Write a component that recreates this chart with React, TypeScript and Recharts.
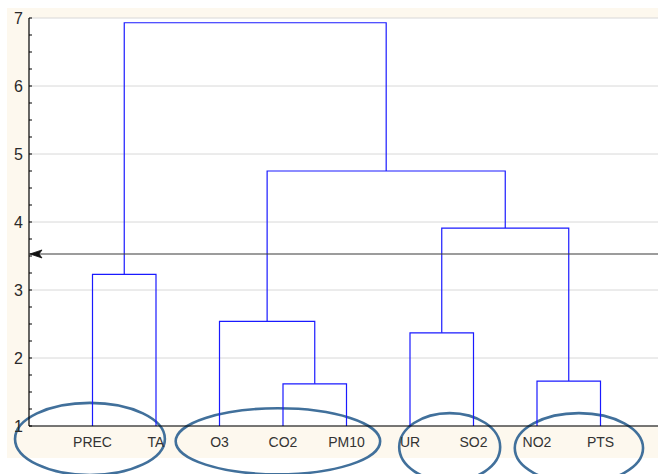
import React from "react";
import {
  ComposedChart,
  Line,
  XAxis,
  YAxis,
  CartesianGrid,
  ReferenceArea,
} from "recharts";

// Leaves of the dendrogram, left to right
const leaves = ["PREC", "TA", "O3", "CO2", "PM10", "UR", "SO2", "NO2", "PTS"];
// Merges: node ids 0..8 are leaves, merge k creates node 9+k
const mergeLeft = [3, 7, 5, 2, 0, 11, 12, 13];
const mergeRight = [4, 8, 6, 9, 1, 10, 14, 15];
const mergeHeight = [1.62, 1.66, 2.37, 2.54, 3.23, 3.91, 4.75, 6.93];
// Cut line
const cutHeight = 3.53;
// Y axis ticks (labels only on whole numbers)
const yMinorTicks = [
  1, 1.25, 1.5, 1.75, 2, 2.25, 2.5, 2.75, 3, 3.25, 3.5, 3.75, 4, 4.25, 4.5,
  4.75, 5, 5.25, 5.5, 5.75, 6, 6.25, 6.5, 6.75, 7,
];
const gridTicks = [1, 2, 3, 4, 5, 6, 7];
const leafTicks = [1, 2, 3, 4, 5, 6, 7, 8, 9];
// Annotation ellipses (bounds in data units)
const ellX1 = [-0.22, 2.31, 5.83, 7.65];
const ellX2 = [2.14, 5.53, 7.42, 9.67];
const ellY1 = [1.34, 1.26, 1.19, 1.19];
const ellY2 = [0.28, 0.29, 0.19, 0.16];

const BLUE = "#1a1aff";
const FONT = "Liberation Sans, Arial, sans-serif";

function buildSegments() {
  const xs: number[] = leaves.map((_, i) => i + 1);
  const hs: number[] = leaves.map(() => 1);
  const segs: { x: number; y: number }[][] = [];
  mergeLeft.forEach((a, k) => {
    const b = mergeRight[k];
    const h = mergeHeight[k];
    segs.push([
      { x: xs[a], y: hs[a] },
      { x: xs[a], y: h },
      { x: xs[b], y: h },
      { x: xs[b], y: hs[b] },
    ]);
    xs.push((xs[a] + xs[b]) / 2);
    hs.push(h);
  });
  return segs;
}

const segments = buildSegments();
const cutData = [
  { x: 0, y: cutHeight },
  { x: 10, y: cutHeight },
];

const ArrowDot = (props: any) => {
  const { cx, cy, index } = props;
  if (index !== 0) return <g key={`d${index}`} />;
  return (
    <polygon
      key={`d${index}`}
      points={`${cx + 1},${cy} ${cx + 13},${cy - 4} ${cx + 10},${cy} ${cx + 13},${cy + 4}`}
      fill="#111"
      stroke="#111"
      strokeWidth={0.8}
    />
  );
};

const EllipseShape = (props: any) => {
  const { x, y, width, height } = props;
  return (
    <ellipse
      cx={x + width / 2}
      cy={y + height / 2}
      rx={Math.abs(width) / 2}
      ry={Math.abs(height) / 2}
      fill="none"
      stroke="#41709b"
      strokeWidth={2.6}
    />
  );
};

// y tick: inward tick mark at every quarter, label on whole numbers
const YTick = (props: any) => {
  const { x, y, payload } = props;
  const v = payload.value as number;
  const axisX = x + 6;
  return (
    <g>
      <line x1={axisX} x2={axisX + 3} y1={y} y2={y} stroke="#000" strokeWidth={1} />
      {Number.isInteger(v) && (
        <text
          x={x}
          y={y}
          dy="0.36em"
          textAnchor="end"
          fill="#2a2a2a"
          fontSize={16}
          fontFamily={FONT}
        >
          {v}
        </text>
      )}
    </g>
  );
};

// top axis tick: inward (downward) tick mark
const TopTick = (props: any) => {
  const { x, y } = props;
  return <line x1={x} x2={x} y1={y} y2={y + 3} stroke="#000" strokeWidth={1} />;
};

export default function App() {
  return (
    <div
      style={{
        position: "absolute",
        left: 0,
        top: 0,
        width: 658,
        height: 474,
        overflow: "hidden",
        background: "#ffffff",
      }}
    >
      <div
        style={{
          position: "absolute",
          left: 7,
          top: 8,
          width: 651,
          height: 450,
          background: "#fdf8ee",
        }}
      />
      <div style={{ position: "absolute", left: 0, top: 0 }}>
        <ComposedChart
          width={680}
          height={474}
          margin={{ top: 18, right: 16, bottom: 18, left: 0 }}
        >
          <CartesianGrid
            vertical={false}
            horizontalValues={gridTicks}
            stroke="#d8d8d8"
            fill="#ffffff"
            fillOpacity={1}
          />
          <XAxis
            type="number"
            dataKey="x"
            domain={[0, 10]}
            ticks={leafTicks}
            interval={0}
            tickFormatter={(v: number) => leaves[v - 1] ?? ""}
            tickLine={false}
            tickSize={0}
            tickMargin={11}
            height={30}
            axisLine={{ stroke: "#000", strokeWidth: 1.2 }}
            tick={{ fill: "#333", fontSize: 14, fontFamily: FONT }}
            allowDataOverflow
          />
          <XAxis
            xAxisId="top"
            orientation="top"
            type="number"
            domain={[0, 10]}
            ticks={leafTicks}
            interval={0}
            tickSize={0}
            tickMargin={0}
            tickLine={false}
            tick={TopTick}
            axisLine={{ stroke: "#000", strokeWidth: 1.2 }}
            height={0}
            allowDataOverflow
          />
          <YAxis
            type="number"
            domain={[1, 7]}
            ticks={yMinorTicks}
            interval={0}
            width={29}
            tickLine={false}
            tickSize={0}
            tickMargin={6}
            axisLine={{ stroke: "#000", strokeWidth: 1.2 }}
            tick={YTick}
            allowDataOverflow
          />
          {ellX1.map((x1, i) => (
            <ReferenceArea
              key={`e${i}`}
              x1={x1}
              x2={ellX2[i]}
              y1={ellY1[i]}
              y2={ellY2[i]}
              ifOverflow="visible"
              shape={EllipseShape}
            />
          ))}
          {segments.map((d, i) => (
            <Line
              key={`s${i}`}
              data={d}
              dataKey="y"
              type="linear"
              stroke={BLUE}
              strokeWidth={1.2}
              dot={false}
              activeDot={false}
              isAnimationActive={false}
            />
          ))}
          <Line
            data={cutData}
            dataKey="y"
            type="linear"
            stroke="#3a3a3a"
            strokeWidth={1.1}
            dot={ArrowDot}
            activeDot={false}
            isAnimationActive={false}
          />
        </ComposedChart>
      </div>
    </div>
  );
}
